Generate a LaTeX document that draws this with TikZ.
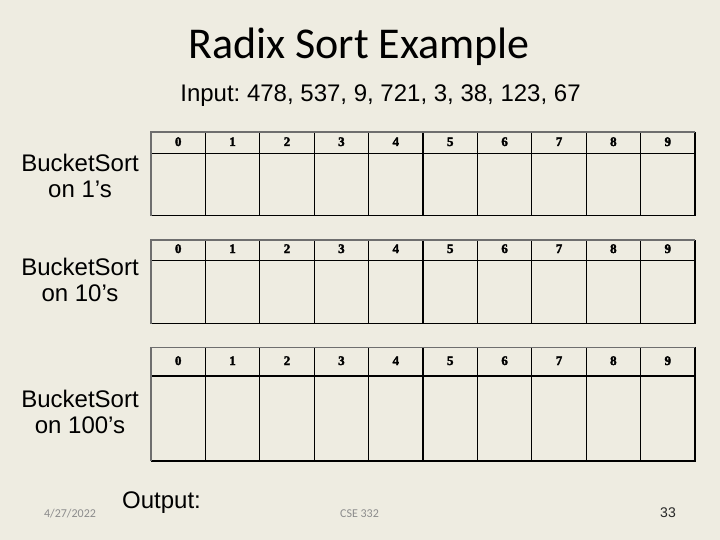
\documentclass[tikz,border=0pt]{standalone}
\usepackage{fontspec}
\setmainfont{Liberation Sans}
\newfontfamily\titlefont{Carlito}
\newfontfamily\hdrfont{Liberation Serif Bold}[FakeBold=2.5]
\definecolor{bg}{RGB}{238,236,225}
\definecolor{footgray}{RGB}{140,140,140}
\definecolor{edgegray}{RGB}{110,110,110}
\frenchspacing
\begin{document}
\begin{tikzpicture}[x=1pt,y=-1pt,
  lbl/.style={align=center,font=\fontsize{24}{26}\selectfont,anchor=base},
  hdr/.style={font=\hdrfont\fontsize{13}{13}\selectfont,anchor=base,inner sep=0pt},
  grid/.style={line width=1.1pt,black},
  edge/.style={line width=1.1pt,edgegray}]
\fill[bg] (0,0) rectangle (720,540);
\useasboundingbox (0,0) rectangle (720,540);
\node[anchor=base,font=\titlefont\fontsize{44}{44}\selectfont,inner sep=0pt] (title) at (359,59) {Radix Sort Example};
\node[anchor=base,font=\fontsize{24}{24}\selectfont,inner sep=0pt] (input) at (380.5,101.7) {Input: 478, 537, 9, 721, 3, 38, 123, 67};
% tables
\foreach \t/\top/\mid/\bot/\base in {1/132/153.3/215.7/146, 2/240/260.7/323.7/253, 3/347.3/376/461/365}{
  \draw[grid] (151,\mid) -- (695,\mid);
  \foreach \i in {1,...,9}{
    \draw[grid] ({151+54.4*\i},\top) -- ({151+54.4*\i},\bot);
  }
  \draw[grid] (695,\top) -- (695,\bot) -- (151,\bot);
  \draw[edge] (151,\bot) -- (151,\top) -- (695,\top);
  \foreach \i in {0,...,9}{
    \node[hdr] (h\t-\i) at ({151+54.4*\i+27.2},\base) {\i};
  }
}
\node[lbl,inner sep=0pt] (l1) at (80,198) {BucketSort\\on 1’s};
\node[lbl,inner sep=0pt] (l2) at (80,301.7) {BucketSort\\on 10’s};
\node[lbl,inner sep=0pt] (l3) at (80,433) {BucketSort\\on 100’s};
\node[anchor=base west,font=\fontsize{24}{24}\selectfont,inner sep=0pt] (output) at (122,508.3) {Output:};
\node[anchor=base,font=\titlefont\fontsize{12}{12}\selectfont,text=footgray,inner sep=0pt] (date) at (70,517) {4/27/2022};
\node[anchor=base,font=\titlefont\fontsize{12}{12}\selectfont,text=footgray,inner sep=0pt] (course) at (359.5,517) {CSE 332};
\node[anchor=base,font=\fontsize{14}{14}\selectfont,text=black!85,inner sep=0pt] (page) at (668,517.7) {33};
\end{tikzpicture}
\end{document}
